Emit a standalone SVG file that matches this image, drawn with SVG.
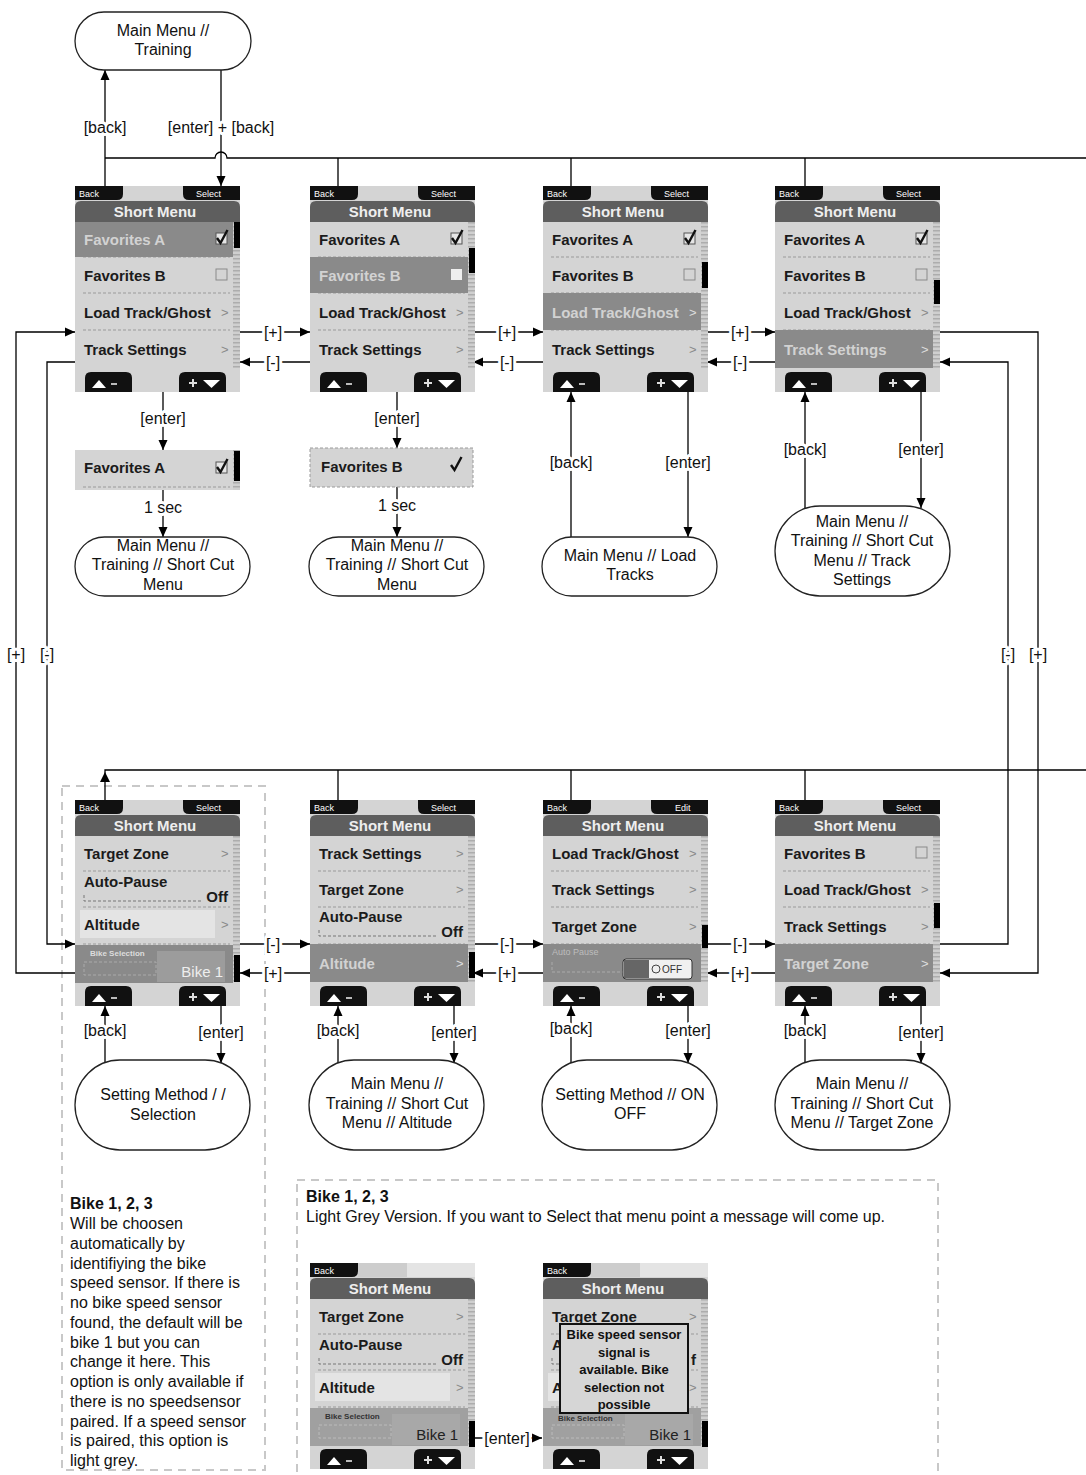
<svg xmlns="http://www.w3.org/2000/svg" xmlns:xlink="http://www.w3.org/1999/xlink" width="1086" height="1475" viewBox="0 0 1086 1475">
<style>
text{font-family:"Liberation Sans",Arial,sans-serif}
.lbl{font-size:16px;fill:#111;text-anchor:middle;dominant-baseline:central;paint-order:stroke;stroke:#fff;stroke-width:6px;stroke-linejoin:round}
.nt{font-size:16px;fill:#111;text-anchor:middle;dominant-baseline:central}
.para{font-size:16px;fill:#111}
.b{font-weight:bold}
.tab{font-size:9px;fill:#fff}
.hdr{font-size:15px;font-weight:bold;fill:#eee;text-anchor:middle}
.row{font-size:15px;font-weight:bold;fill:#1b1b1b}
.hlt{fill:#d2d2d2}
.gt{font-size:13px;fill:#8a8a8a}
.sm{font-size:8px;font-weight:bold}
.hl{fill:#8a8a8a}
.conn path{fill:none;stroke:#000;stroke-width:1.3}
.conn path.head{fill:#000;stroke:none}
.arr{marker-end:url(#ah)}
.node{fill:#fff;stroke:#222;stroke-width:1.3}
.dash{fill:none;stroke:#c8c8c8;stroke-width:2;stroke-dasharray:8 6}
.pop{font-size:13px;font-weight:bold;fill:#111;text-anchor:middle}
</style>
<defs>
<marker id="ah" markerUnits="userSpaceOnUse" markerWidth="10" markerHeight="10" viewBox="0 0 10 10" refX="10" refY="5" orient="auto"><path d="M0,0.5L10,5L0,9.5Z" fill="#000"/></marker>
<pattern id="sb" patternUnits="userSpaceOnUse" width="7" height="4"><rect width="7" height="4" fill="#cfcfcf"/><rect width="7" height="1.5" fill="#adadad"/></pattern>
<g id="chrome">
<rect width="165" height="206" fill="#d4d4d4"/>
<path d="M0,0H48V8Q48,14 42,14H0Z" fill="#111"/>
<text class="tab" x="4" y="11">Back</text>
<path d="M0,36V21Q0,15 6,15H159Q165,15 165,21V36Z" fill="#5e5e5e"/>
<text class="hdr" x="80" y="31">Short Menu</text>
<rect x="158" y="36" width="7" height="146" fill="url(#sb)"/>
<path d="M10,206V192Q10,186 16,186H51Q57,186 57,192V206Z" fill="#111"/>
<path d="M17,202L24,194L31,202Z" fill="#fff"/>
<rect x="36" y="197" width="6" height="2" fill="#bbb"/>
<path d="M104,206V192Q104,186 110,186H145Q151,186 151,192V206Z" fill="#111"/>
<path d="M114,197H122M118,193V201" stroke="#ddd" stroke-width="2"/>
<path d="M128,194H145L136.5,202Z" fill="#fff"/>
</g>
<g id="sel"><path d="M108,0H165V14H114Q108,14 108,8Z" fill="#111"/><text class="tab" x="121" y="11">Select</text></g>
<g id="edit"><path d="M108,0H165V14H114Q108,14 108,8Z" fill="#111"/><text class="tab" x="132" y="11">Edit</text></g>
<path id="divs" d="M8,71H155M8,107H155M8,144H155" stroke="#9a9a9a" stroke-dasharray="3 2" fill="none"/>
<g id="cbOn"><rect width="11" height="11" fill="#e6e6e6" stroke="#555"/><path d="M1,5l3.5,5l7,-13" stroke="#111" stroke-width="2.4" fill="none"/></g>
<g id="cbOff"><rect width="11" height="11" fill="none" stroke="#8a8a8a"/></g>
<g id="autopause">
<text class="row" x="9" y="0">Auto-Pause</text>
<path d="M9,8V14H128" stroke="#777" stroke-dasharray="3 2" fill="none"/>
<text class="row" x="153" y="15" text-anchor="end" font-size="13">Off</text>
</g>
</defs>
<rect width="1086" height="1475" fill="#fff"/>

<rect class="dash" x="62" y="786" width="203" height="684"/>
<rect class="dash" x="297" y="1180" width="641" height="310"/>

<g id="connectors" class="conn">
<path class="arr" d="M105,186V70"/>
<path class="arr" d="M221,70V186"/>
<path d="M105,158H215A6,6 0 0 1 227,158H1086"/>
<path d="M338,158V186M571,158V186M805,158V186"/>
<path class="arr" d="M240,332H310"/><path class="arr" d="M473,332H543"/><path class="arr" d="M707,332H775"/>
<path class="arr" d="M310,362H240"/><path class="arr" d="M543,362H473"/><path class="arr" d="M775,362H707"/>
<path class="arr" d="M75,362H47V944H75"/>
<path class="arr" d="M75,973H16V332H75"/>
<path class="arr" d="M940,332H1038V973H940"/>
<path class="arr" d="M940,944H1008V362H940"/>
<path class="arr" d="M163,392V450"/><path class="arr" d="M163,490V537"/>
<path class="arr" d="M397,392V448"/><path class="arr" d="M397,487V537"/>
<path class="arr" d="M571,537V392"/><path class="arr" d="M688,392V537"/>
<path class="arr" d="M805,509V392"/><path class="arr" d="M921,392V508"/>
<path d="M105,800V770H1086"/>
<path d="M338,770V800M571,770V800M805,770V800"/>
<path class="head" d="M100,782L105,772L110,782Z"/>
<path class="arr" d="M240,944H310"/><path class="arr" d="M473,944H543"/><path class="arr" d="M707,944H775"/>
<path class="arr" d="M310,973H240"/><path class="arr" d="M543,973H473"/><path class="arr" d="M775,973H707"/>
<path class="arr" d="M105,1063V1006"/><path class="arr" d="M221,1006V1063"/>
<path class="arr" d="M338,1063V1006"/><path class="arr" d="M454,1006V1063"/>
<path class="arr" d="M571,1063V1006"/><path class="arr" d="M688,1006V1063"/>
<path class="arr" d="M805,1063V1006"/><path class="arr" d="M921,1006V1063"/>
<path class="arr" d="M473,1438H542"/>
<text class="lbl" x="105" y="127">[back]</text>
<text class="lbl" x="221" y="127">[enter] + [back]</text>
<text class="lbl" x="273" y="332">[+]</text><text class="lbl" x="507" y="332">[+]</text><text class="lbl" x="740" y="332">[+]</text>
<text class="lbl" x="273" y="362">[-]</text><text class="lbl" x="507" y="362">[-]</text><text class="lbl" x="740" y="362">[-]</text>
<text class="lbl" x="16" y="654">[+]</text><text class="lbl" x="47" y="654">[-]</text>
<text class="lbl" x="1008" y="654">[-]</text><text class="lbl" x="1038" y="654">[+]</text>
<text class="lbl" x="163" y="418">[enter]</text><text class="lbl" x="163" y="507">1 sec</text>
<text class="lbl" x="397" y="418">[enter]</text><text class="lbl" x="397" y="505">1 sec</text>
<text class="lbl" x="571" y="462">[back]</text><text class="lbl" x="688" y="462">[enter]</text>
<text class="lbl" x="805" y="449">[back]</text><text class="lbl" x="921" y="449">[enter]</text>
<text class="lbl" x="273" y="944">[-]</text><text class="lbl" x="507" y="944">[-]</text><text class="lbl" x="740" y="944">[-]</text>
<text class="lbl" x="273" y="973">[+]</text><text class="lbl" x="507" y="973">[+]</text><text class="lbl" x="740" y="973">[+]</text>
<text class="lbl" x="105" y="1030">[back]</text><text class="lbl" x="221" y="1032">[enter]</text>
<text class="lbl" x="338" y="1030">[back]</text><text class="lbl" x="454" y="1032">[enter]</text>
<text class="lbl" x="571" y="1028">[back]</text><text class="lbl" x="688" y="1030">[enter]</text>
<text class="lbl" x="805" y="1030">[back]</text><text class="lbl" x="921" y="1032">[enter]</text>
<text class="lbl" x="507" y="1438">[enter]</text>
</g>

<g id="node-main-training">
<rect class="node" x="75" y="12" width="176" height="58" rx="29"/>
<text class="nt" x="163" y="30">Main Menu //</text><text class="nt" x="163" y="49">Training</text>
</g>

<g id="screen-t1" transform="translate(75,186)">
<use href="#chrome"/><use href="#sel"/><use href="#divs"/>
<rect class="hl" y="36" width="158" height="35"/>
<text class="row hlt" x="9" y="59">Favorites A</text><use href="#cbOn" x="141" y="47"/>
<text class="row" x="9" y="95">Favorites B</text><use href="#cbOff" x="141" y="83"/>
<text class="row" x="9" y="132">Load Track/Ghost</text><text class="gt" x="146" y="131">&gt;</text>
<text class="row" x="9" y="169">Track Settings</text><text class="gt" x="146" y="168">&gt;</text>
<rect x="159" y="36" width="6" height="26" fill="#000"/>
</g>
<g id="screen-t2" transform="translate(310,186)">
<use href="#chrome"/><use href="#sel"/><use href="#divs"/>
<rect class="hl" y="71" width="158" height="36"/>
<text class="row" x="9" y="59">Favorites A</text><use href="#cbOn" x="141" y="47"/>
<text class="row hlt" x="9" y="95">Favorites B</text><rect x="141" y="83" width="11" height="11" fill="#eee"/>
<text class="row" x="9" y="132">Load Track/Ghost</text><text class="gt" x="146" y="131">&gt;</text>
<text class="row" x="9" y="169">Track Settings</text><text class="gt" x="146" y="168">&gt;</text>
<rect x="159" y="62" width="6" height="25" fill="#000"/>
</g>
<g id="screen-t3" transform="translate(543,186)">
<use href="#chrome"/><use href="#sel"/><use href="#divs"/>
<rect class="hl" y="107" width="158" height="37"/>
<text class="row" x="9" y="59">Favorites A</text><use href="#cbOn" x="141" y="47"/>
<text class="row" x="9" y="95">Favorites B</text><use href="#cbOff" x="141" y="83"/>
<text class="row hlt" x="9" y="132">Load Track/Ghost</text><text class="gt" x="146" y="131" style="fill:#ddd">&gt;</text>
<text class="row" x="9" y="169">Track Settings</text><text class="gt" x="146" y="168">&gt;</text>
<rect x="159" y="76" width="6" height="26" fill="#000"/>
</g>
<g id="screen-t4" transform="translate(775,186)">
<use href="#chrome"/><use href="#sel"/><use href="#divs"/>
<rect class="hl" y="144" width="158" height="38"/>
<text class="row" x="9" y="59">Favorites A</text><use href="#cbOn" x="141" y="47"/>
<text class="row" x="9" y="95">Favorites B</text><use href="#cbOff" x="141" y="83"/>
<text class="row" x="9" y="132">Load Track/Ghost</text><text class="gt" x="146" y="131">&gt;</text>
<text class="row hlt" x="9" y="169">Track Settings</text><text class="gt" x="146" y="168" style="fill:#ddd">&gt;</text>
<rect x="159" y="94" width="6" height="24" fill="#000"/>
</g>

<g id="box-fav-a" transform="translate(75,450)">
<rect width="165" height="40" fill="#d4d4d4"/>
<path d="M8,37H155" stroke="#9a9a9a" stroke-dasharray="3 2"/>
<text class="row" x="9" y="23">Favorites A</text><use href="#cbOn" x="141" y="12"/>
<rect x="158" y="0" width="7" height="40" fill="url(#sb)"/>
<rect x="159" y="1" width="6" height="30" fill="#000"/>
</g>
<g id="box-fav-b" transform="translate(310,448)">
<rect width="163" height="39" fill="#d4d4d4" stroke="#9a9a9a" stroke-dasharray="3 2"/>
<text class="row" x="11" y="24">Favorites B</text>
<path d="M141,17l3.5,5l7,-13" stroke="#111" stroke-width="2.4" fill="none"/>
</g>

<g id="node-sc-a"><rect class="node" x="75" y="537" width="175" height="59" rx="29.5"/>
<text class="nt" x="163" y="545">Main Menu //</text><text class="nt" x="163" y="564">Training // Short Cut</text><text class="nt" x="163" y="584">Menu</text></g>
<g id="node-sc-b"><rect class="node" x="309" y="537" width="175" height="59" rx="29.5"/>
<text class="nt" x="397" y="545">Main Menu //</text><text class="nt" x="397" y="564">Training // Short Cut</text><text class="nt" x="397" y="584">Menu</text></g>
<g id="node-load"><rect class="node" x="542" y="537" width="175" height="59" rx="29.5"/>
<text class="nt" x="630" y="555">Main Menu // Load</text><text class="nt" x="630" y="574">Tracks</text></g>
<g id="node-track"><rect class="node" x="775" y="506" width="175" height="90" rx="45"/>
<text class="nt" x="862" y="521">Main Menu //</text><text class="nt" x="862" y="540">Training // Short Cut</text><text class="nt" x="862" y="560">Menu // Track</text><text class="nt" x="862" y="579">Settings</text></g>

<g id="screen-b1" transform="translate(75,800)">
<use href="#chrome"/><use href="#sel"/><use href="#divs"/>
<text class="row" x="9" y="59">Target Zone</text><text class="gt" x="146" y="58">&gt;</text>
<use href="#autopause" x="0" y="87"/>
<rect x="5" y="110" width="135" height="28" fill="#e4e4e4"/>
<text class="row" x="9" y="130" font-size="14">Altitude</text><text class="gt" x="146" y="129">&gt;</text>
<rect class="hl" y="145" width="158" height="38"/>
<text class="sm" x="15" y="156" fill="#ddd">Bike Selection</text>
<rect x="9" y="162" width="72" height="13" fill="none" stroke="#aaa" stroke-dasharray="3 2"/>
<rect x="82" y="151" width="68" height="31" fill="#9c9c9c"/>
<text x="148" y="177" font-size="15" fill="#eee" text-anchor="end">Bike 1</text>
<rect x="159" y="155" width="6" height="27" fill="#000"/>
</g>
<g id="screen-b2" transform="translate(310,800)">
<use href="#chrome"/><use href="#sel"/><use href="#divs"/>
<text class="row" x="9" y="59">Track Settings</text><text class="gt" x="146" y="58">&gt;</text>
<text class="row" x="9" y="95">Target Zone</text><text class="gt" x="146" y="94">&gt;</text>
<use href="#autopause" x="0" y="122"/>
<rect class="hl" y="144" width="158" height="38"/>
<text class="row hlt" x="9" y="169">Altitude</text><text class="gt" x="146" y="168" style="fill:#ddd">&gt;</text>
<rect x="159" y="152" width="6" height="26" fill="#000"/>
</g>
<g id="screen-b3" transform="translate(543,800)">
<use href="#chrome"/><use href="#edit"/><use href="#divs"/>
<text class="row" x="9" y="59">Load Track/Ghost</text><text class="gt" x="146" y="58">&gt;</text>
<text class="row" x="9" y="95">Track Settings</text><text class="gt" x="146" y="94">&gt;</text>
<text class="row" x="9" y="132">Target Zone</text><text class="gt" x="146" y="131">&gt;</text>
<rect class="hl" y="144" width="158" height="38"/>
<text x="9" y="155" font-size="9" fill="#bdbdbd">Auto Pause</text>
<path d="M9,162V172H80" stroke="#aaa" stroke-dasharray="3 2" fill="none"/>
<rect x="80" y="159" width="69" height="20" rx="3" fill="#f0f0f0" stroke="#333"/>
<rect x="81" y="160" width="25" height="18" fill="#666"/>
<circle cx="113" cy="169" r="4" fill="none" stroke="#444"/>
<text x="119" y="173" font-size="10" fill="#333">OFF</text>
<rect x="159" y="125" width="6" height="23" fill="#000"/>
</g>
<g id="screen-b4" transform="translate(775,800)">
<use href="#chrome"/><use href="#sel"/><use href="#divs"/>
<text class="row" x="9" y="59">Favorites B</text><use href="#cbOff" x="141" y="47"/>
<text class="row" x="9" y="95">Load Track/Ghost</text><text class="gt" x="146" y="94">&gt;</text>
<text class="row" x="9" y="132">Track Settings</text><text class="gt" x="146" y="131">&gt;</text>
<rect class="hl" y="144" width="158" height="38"/>
<text class="row hlt" x="9" y="169">Target Zone</text><text class="gt" x="146" y="168" style="fill:#ddd">&gt;</text>
<rect x="159" y="103" width="6" height="25" fill="#000"/>
</g>

<g id="node-setting-sel"><rect class="node" x="75" y="1060" width="175" height="90" rx="45"/>
<text class="nt" x="163" y="1094">Setting Method / /</text><text class="nt" x="163" y="1114">Selection</text></g>
<g id="node-altitude"><rect class="node" x="309" y="1060" width="175" height="90" rx="45"/>
<text class="nt" x="397" y="1083">Main Menu //</text><text class="nt" x="397" y="1103">Training // Short Cut</text><text class="nt" x="397" y="1122">Menu // Altitude</text></g>
<g id="node-onoff"><rect class="node" x="542" y="1060" width="175" height="90" rx="45"/>
<text class="nt" x="630" y="1094">Setting Method // ON</text><text class="nt" x="630" y="1113">OFF</text></g>
<g id="node-target"><rect class="node" x="775" y="1060" width="175" height="90" rx="45"/>
<text class="nt" x="862" y="1083">Main Menu //</text><text class="nt" x="862" y="1103">Training // Short Cut</text><text class="nt" x="862" y="1122">Menu // Target Zone</text></g>

<g id="note-left">
<text class="para b" x="70" y="1209">Bike 1, 2, 3</text>
<text class="para" x="70" y="1229">Will be choosen</text>
<text class="para" x="70" y="1248.7">automatically by</text>
<text class="para" x="70" y="1268.5">identifiying the bike</text>
<text class="para" x="70" y="1288.2">speed sensor. If there is</text>
<text class="para" x="70" y="1308">no bike speed sensor</text>
<text class="para" x="70" y="1327.7">found, the default will be</text>
<text class="para" x="70" y="1347.5">bike 1 but you can</text>
<text class="para" x="70" y="1367.2">change it here. This</text>
<text class="para" x="70" y="1387">option is only available if</text>
<text class="para" x="70" y="1406.7">there is no speedsensor</text>
<text class="para" x="70" y="1426.5">paired. If a speed sensor</text>
<text class="para" x="70" y="1446.2">is paired, this option is</text>
<text class="para" x="70" y="1466">light grey.</text>
</g>
<g id="note-right">
<text class="para b" x="306" y="1202">Bike 1, 2, 3</text>
<text class="para" x="306" y="1222">Light Grey Version. If you want to Select that menu point a message will come up.</text>
</g>

<g id="screen-g1" transform="translate(310,1263)">
<use href="#chrome"/><use href="#divs"/>
<rect x="48" y="0" width="117" height="14" fill="#cdcdcd"/><rect x="97" y="0" width="68" height="14" fill="#e4e4e4"/>
<text class="row" x="9" y="59">Target Zone</text><text class="gt" x="146" y="58">&gt;</text>
<use href="#autopause" x="0" y="87"/>
<rect x="5" y="110" width="135" height="28" fill="#e4e4e4"/>
<text class="row" x="9" y="130" font-size="14">Altitude</text><text class="gt" x="146" y="129">&gt;</text>
<rect y="145" width="158" height="38" fill="#a0a0a0"/>
<text class="sm" x="15" y="156" fill="#333">Bike Selection</text>
<rect x="9" y="162" width="72" height="13" fill="none" stroke="#bbb" stroke-dasharray="3 2"/>
<rect x="82" y="151" width="68" height="31" fill="#a8a8a8"/>
<text x="148" y="177" font-size="15" fill="#222" text-anchor="end">Bike 1</text>
<rect x="159" y="158" width="6" height="26" fill="#000"/>
</g>
<g id="screen-g2" transform="translate(543,1263)">
<use href="#chrome"/><use href="#divs"/>
<rect x="48" y="0" width="117" height="14" fill="#cdcdcd"/><rect x="97" y="0" width="68" height="14" fill="#e4e4e4"/>
<text class="row" x="9" y="59">Target Zone</text><text class="gt" x="146" y="58">&gt;</text>
<text class="row" x="9" y="87">A</text>
<path d="M9,95V101H16" stroke="#777" stroke-dasharray="3 2" fill="none"/>
<text class="row" x="153" y="102" text-anchor="end" font-size="13">f</text>
<rect x="5" y="110" width="12" height="28" fill="#e4e4e4"/>
<text class="row" x="9" y="130" font-size="14">A</text><text class="gt" x="146" y="129">&gt;</text>
<rect y="145" width="158" height="38" fill="#a0a0a0"/>
<text class="sm" x="15" y="158" fill="#333">Bike Selection</text>
<rect x="9" y="162" width="72" height="13" fill="none" stroke="#bbb" stroke-dasharray="3 2"/>
<rect x="82" y="151" width="68" height="31" fill="#a8a8a8"/>
<text x="148" y="177" font-size="15" fill="#222" text-anchor="end">Bike 1</text>
<rect x="159" y="158" width="6" height="26" fill="#000"/>
<rect x="17" y="61" width="128" height="89" fill="#d6d6d6" stroke="#111" stroke-width="2"/>
<text class="pop" x="81" y="76">Bike speed sensor</text>
<text class="pop" x="81" y="94">signal is</text>
<text class="pop" x="81" y="111">available. Bike</text>
<text class="pop" x="81" y="129">selection not</text>
<text class="pop" x="81" y="146">possible</text>
</g>
</svg>
